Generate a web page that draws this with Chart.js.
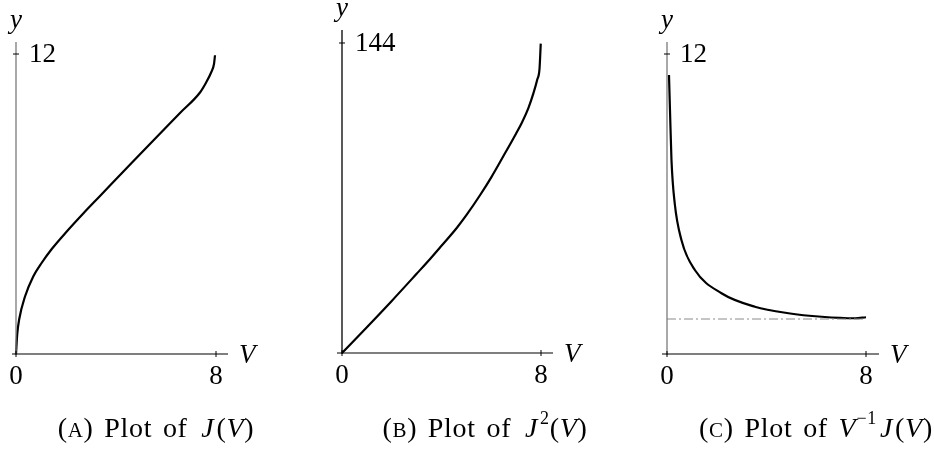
<!DOCTYPE html>
<html>
<head>
<meta charset="utf-8">
<script src="https://cdn.jsdelivr.net/npm/chart.js@4"></script>
<style>
  html, body { margin: 0; padding: 0; background: #fff; }
  #wrap { position: relative; width: 934px; height: 451px; overflow: hidden; }
  #wrap canvas { position: absolute; left: 0; top: 0; }
  .cap { position: absolute; top: 412px; font-family: "Liberation Serif", serif; font-size: 28px; line-height: 32px; color: #000; white-space: nowrap; transform: translateX(-50%); word-spacing: 3px; letter-spacing: 0.7px; }
  .sc { font-size: 21px; }
  .cap i.cal { padding-left: 3px; padding-right: 2px; }
  .cap sup { font-size: 18px; line-height: 0; position: relative; top: -3px; }
</style>
</head>
<body>
<div id="wrap">
  <canvas id="cA" width="934" height="451"></canvas>
  <canvas id="cB" width="934" height="451"></canvas>
  <canvas id="cC" width="934" height="451"></canvas>
  <div class="cap" style="left:156px">(<span class="sc">A</span>) Plot of <i class="cal">J</i>(<i>V</i>)</div>
  <div class="cap" style="left:485px">(<span class="sc">B</span>) Plot of <i class="cal">J</i><sup>2</sup>(<i>V</i>)</div>
  <div class="cap" style="left:816px">(<span class="sc">C</span>) Plot of <i>V</i><sup>−1</sup><i class="cal">J</i>(<i>V</i>)</div>
</div>
<script>
// ---- data ----
const vA = [0, 0.05, 0.13, 0.36, 0.69, 1.03, 1.43, 2.03, 2.69, 3.36, 4.69, 5.89, 6.56, 7.36, 7.6, 7.8, 7.92, 7.96];
const jA = [0, 0.8, 1.4, 2.3, 3.1, 3.65, 4.2, 4.9, 5.62, 6.32, 7.71, 8.95, 9.64, 10.46, 10.85, 11.25, 11.6, 11.95];

const vB = [0, 1, 2, 3, 3.55, 4, 4.62, 5, 5.56, 6, 6.49, 7, 7.23, 7.5, 7.7, 7.85, 7.94, 7.99];
const jB = [0, 12, 24.2, 36.8, 43.8, 49.8, 58.2, 64, 73.5, 81.6, 91.5, 102, 107, 114, 120.8, 127, 132, 143.7];

const vC = [0.08, 0.12, 0.18, 0.31, 0.58, 1.12, 2.19, 3.53, 4.88, 6.22, 7.56, 8.0];
const jC = [11.16, 9.76, 7.76, 6.03, 4.56, 3.36, 2.43, 1.89, 1.63, 1.49, 1.43, 1.47];
const limitC = 1.4;

const xTicks = [0, 8];
const xTickLabels = ['0', '8'];
const yTicksA = [12], yTickLabelsA = ['12'];
const yTicksB = [144], yTickLabelsB = ['144'];
const yTicksC = [12], yTickLabelsC = ['12'];

function pts(xs, ys) { return xs.map((x, i) => ({ x: x, y: ys[i] })); }

const FONT = '"Liberation Serif", serif';

function axesPlugin(cfg) {
  return {
    id: 'axesDraw',
    afterDatasetsDraw(chart) {
      const ctx = chart.ctx, xs = chart.scales.x, ys = chart.scales.y;
      const x0 = xs.getPixelForValue(0), x8 = xs.getPixelForValue(8);
      const y0 = ys.getPixelForValue(0);
      ctx.save();
      if (cfg.limit !== undefined) {
        const yl = ys.getPixelForValue(cfg.limit);
        ctx.strokeStyle = '#8a8a8a'; ctx.lineWidth = 1;
        ctx.setLineDash([9, 3, 2, 3]);
        ctx.beginPath(); ctx.moveTo(x0, yl); ctx.lineTo(x8, yl); ctx.stroke();
        ctx.setLineDash([]);
      }
      ctx.strokeStyle = cfg.yColor; ctx.lineWidth = 1.3;
      ctx.beginPath(); ctx.moveTo(x0, y0 + 1); ctx.lineTo(x0, cfg.yTop); ctx.stroke();
      ctx.strokeStyle = '#000'; ctx.lineWidth = 1.2;
      ctx.beginPath(); ctx.moveTo(x0 - cfg.xl, y0); ctx.lineTo(x8 + cfg.xr, y0); ctx.stroke();
      ctx.lineWidth = 1;
      xTicks.forEach(t => {
        const p = xs.getPixelForValue(t);
        ctx.beginPath(); ctx.moveTo(p, y0 - 3); ctx.lineTo(p, y0 + 3); ctx.stroke();
      });
      cfg.yTicks.forEach(t => {
        const p = ys.getPixelForValue(t);
        ctx.beginPath(); ctx.moveTo(x0 - 3, p); ctx.lineTo(x0 + 3, p); ctx.stroke();
      });
      ctx.fillStyle = '#000';
      ctx.font = '27px ' + FONT;
      ctx.textAlign = 'center'; ctx.textBaseline = 'middle';
      xTicks.forEach((t, i) => {
        ctx.fillText(xTickLabels[i], xs.getPixelForValue(t), y0 + 23);
      });
      ctx.textAlign = 'left';
      cfg.yTicks.forEach((t, i) => {
        ctx.fillText(cfg.yLabels[i], x0 + 13, ys.getPixelForValue(t) + 1);
      });
      ctx.font = 'italic 27px ' + FONT;
      ctx.textBaseline = 'alphabetic';
      ctx.fillText('V', x8 + cfg.xr + 11, y0 + 9);
      ctx.textAlign = 'center';
      ctx.fillText('y', x0, cfg.yLabelBase);
      ctx.restore();
    }
  };
}

function makeChart(id, data, xmin, xmax, ymax, pad, cfg) {
  return new Chart(document.getElementById(id), {
    type: 'scatter',
    data: { datasets: [{ data: data, showLine: true, borderColor: '#000', borderWidth: 2.2,
      pointRadius: 0, cubicInterpolationMode: 'monotone', fill: false, clip: false }] },
    options: {
      responsive: false, animation: false, events: [],
      layout: { padding: pad },
      plugins: { legend: { display: false }, tooltip: { enabled: false } },
      scales: {
        x: { type: 'linear', min: xmin, max: xmax, display: false },
        y: { type: 'linear', min: 0, max: ymax, display: false }
      }
    },
    plugins: [axesPlugin(cfg)]
  });
}

makeChart('cA', pts(vA, jA), 0, 8, 12,
  { left: 16, right: 934 - 216, top: 54, bottom: 451 - 354 },
  { yColor: '#7a7a7a', yTop: 42, xl: 4, xr: 12, yTicks: yTicksA, yLabels: yTickLabelsA, yLabelBase: 28 });

makeChart('cB', pts(vB, jB), 0, 8, 144,
  { left: 342, right: 934 - 541, top: 43, bottom: 451 - 353 },
  { yColor: '#000', yTop: 30, xl: 5, xr: 12, yTicks: yTicksB, yLabels: yTickLabelsB, yLabelBase: 16 });

makeChart('cC', pts(vC, jC), 0, 8, 12,
  { left: 667, right: 934 - 866, top: 54, bottom: 451 - 354 },
  { yColor: '#7a7a7a', yTop: 42, xl: 5, xr: 13, yTicks: yTicksC, yLabels: yTickLabelsC, yLabelBase: 28, limit: limitC });
</script>
</body>
</html>
